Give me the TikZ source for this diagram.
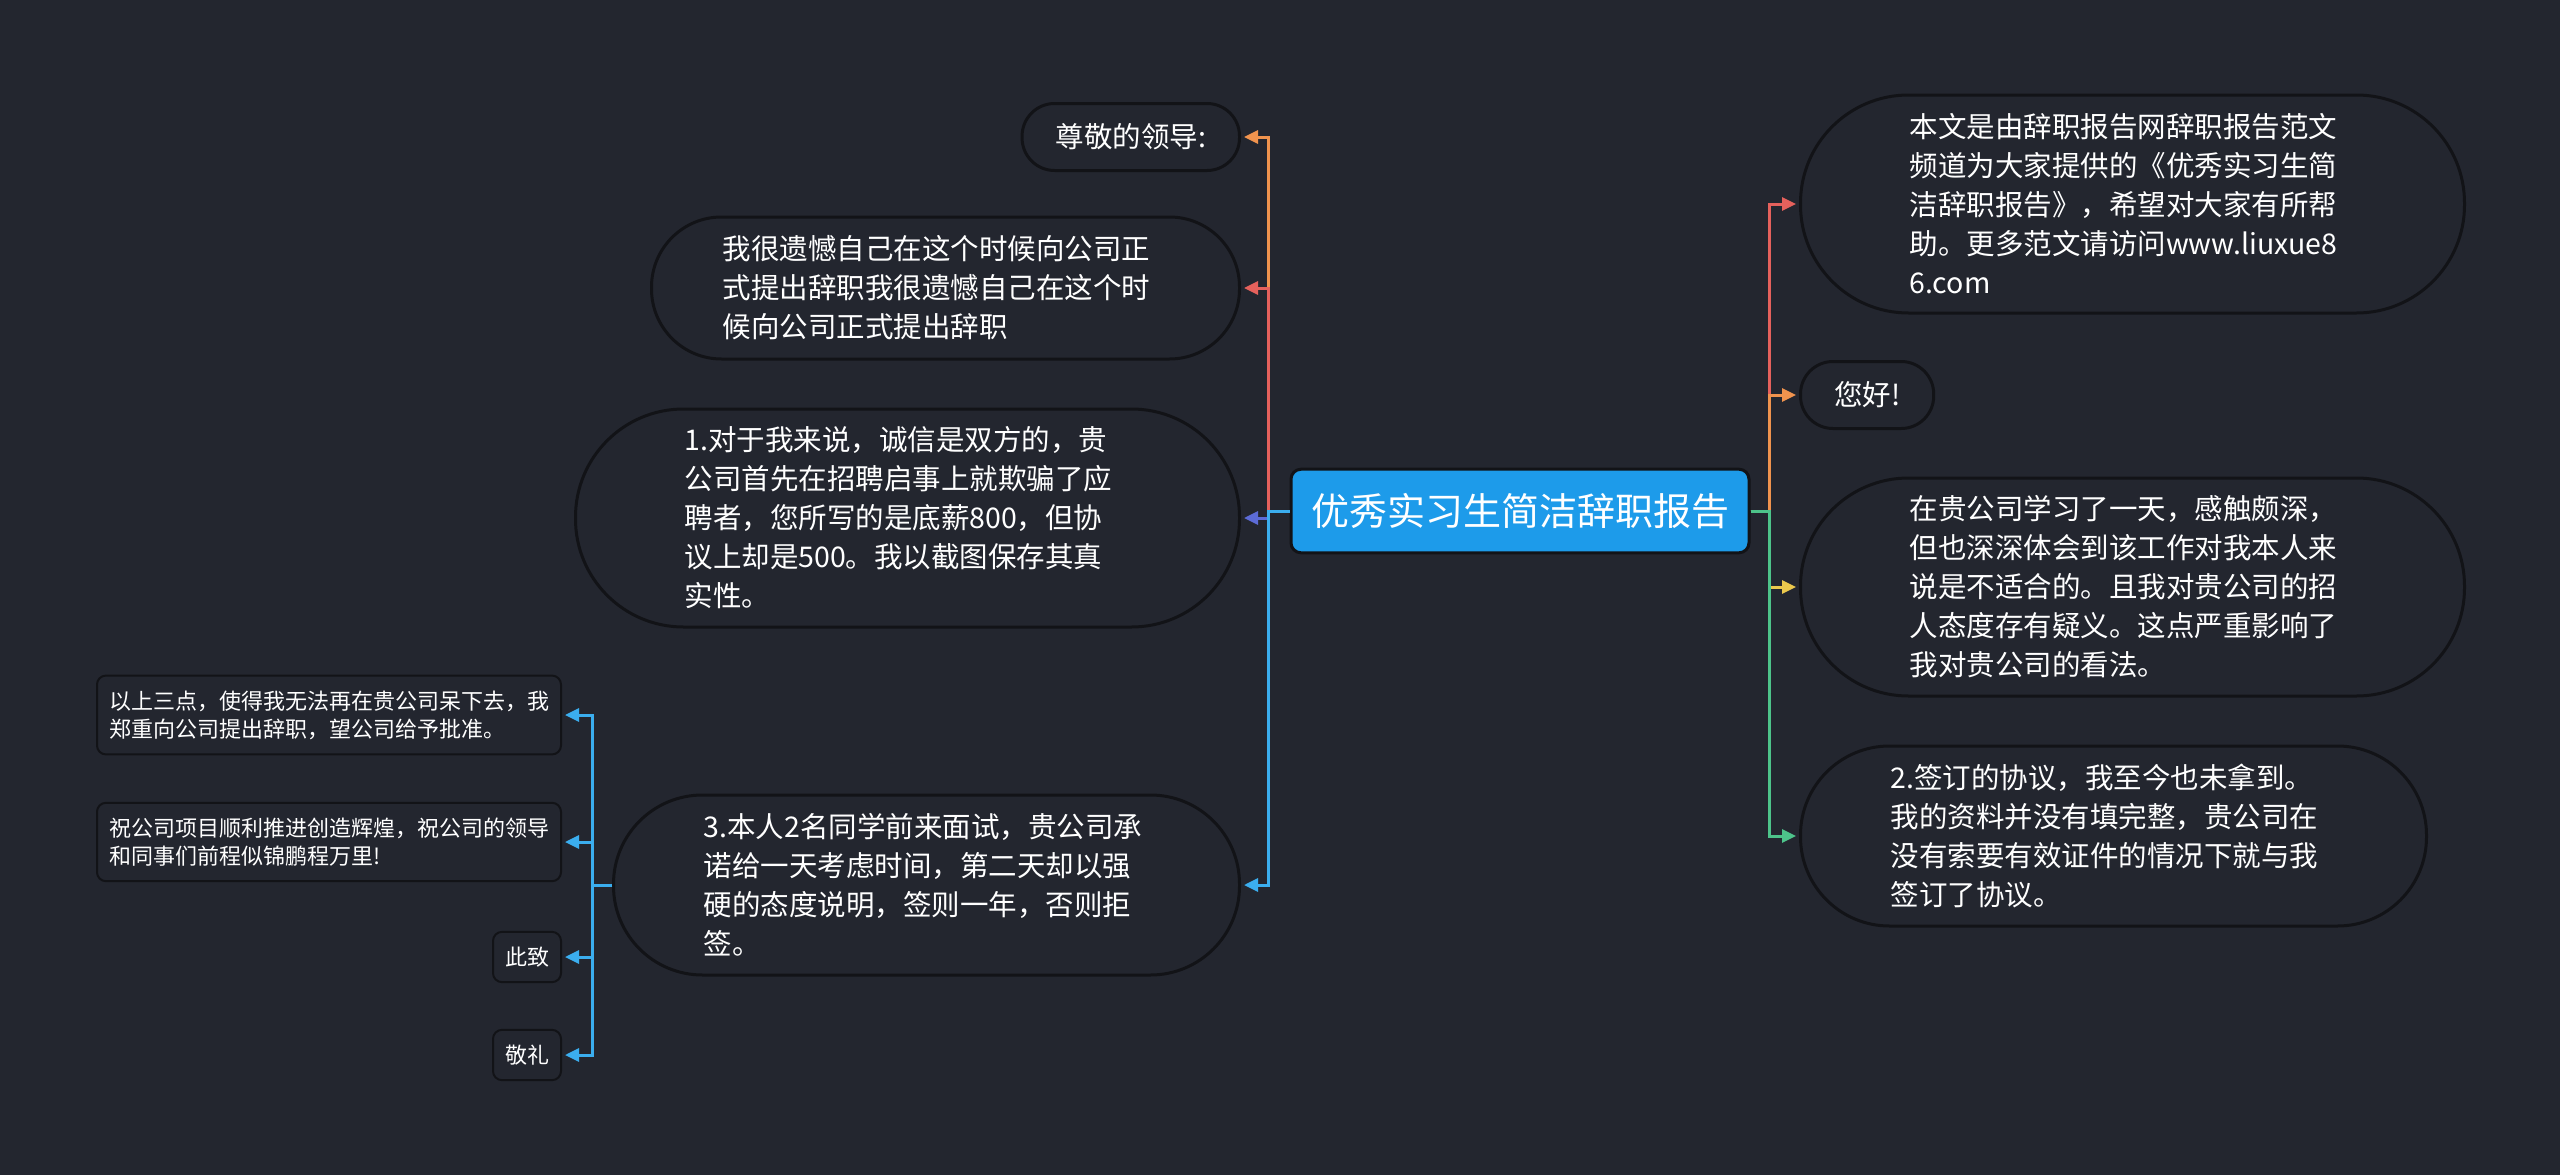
\documentclass[tikz,border=0pt]{standalone}
\usepackage{fontspec}
\setmainfont{Noto Sans CJK SC}
\usetikzlibrary{arrows.meta}

\begin{document}
\begin{tikzpicture}[
  x=1pt, y=-1pt,
  >={Triangle[length=14pt,width=13pt]},
  pill/.style={rectangle, draw=cEdge, line width=3pt, fill=cBg,
    text=white, align=left, rounded corners=#1,
    minimum height={2*#1+2}, inner xsep={#1+1}, inner ysep=4pt,
    font=\fontsize{28.5}{39}\selectfont},
  wide/.style={text width=446pt},
  leaf/.style={rectangle, rounded corners=9pt, draw=cEdge, line width=2pt,
    fill=cBg, text=white, align=left, inner xsep=12pt, inner ysep=15pt,
    font=\fontsize{22}{28}\selectfont},
  link/.style={line width=3pt, ->, shorten >=3pt},
]
\definecolor{cBg}{HTML}{23262F}
\definecolor{cEdge}{HTML}{121317}
\definecolor{cRoot}{HTML}{1D9BEA}
\definecolor{cRed}{HTML}{E5615C}
\definecolor{cOrange}{HTML}{F0934E}
\definecolor{cYellow}{HTML}{EBC84D}
\definecolor{cGreen}{HTML}{4DC38A}
\definecolor{cIndigo}{HTML}{5C6BD6}
\definecolor{cBlue}{HTML}{3BAEEF}

% ============================================================================
% canvas
% ============================================================================
\fill[cBg] (0,0) rectangle (2560,1175);
\useasboundingbox (0,0) rectangle (2560,1175);

% ============================================================================
% root
% ============================================================================
\node[draw=cEdge, line width=3pt, fill=cRoot, rounded corners=10pt,
      text=white, inner xsep=20pt, inner ysep=24pt,
      font=\fontsize{38}{44}\selectfont] (root) at (1520,511)
      {优秀实习生简洁辞职报告};

% ============================================================================
% right branch
% ============================================================================
\pgfmathsetmacro{\rX}{1799}
\node[pill=108pt, wide, anchor=west] (intro) at (\rX,204)
  {本文是由辞职报告网辞职报告范文\\频道为大家提供的《优秀实习生简\\洁辞职报告》，希望对大家有所帮\\助。更多范文请访问www.liuxue8\\6.com};
\node[pill=32.5pt, anchor=west] (hello) at (\rX,395) {您好!};
\node[pill=108pt, wide, anchor=west] (study) at (\rX,587)
  {在贵公司学习了一天，感触颇深，\\但也深深体会到该工作对我本人来\\说是不适合的。且我对贵公司的招\\人态度存有疑义。这点严重影响了\\我对贵公司的看法。};
\node[pill=89pt, wide, anchor=west] (sign) at (\rX,836)
  {2.签订的协议，我至今也未拿到。\\我的资料并没有填完整，贵公司在\\没有索要有效证件的情况下就与我\\签订了协议。};

\foreach \n/\col in {intro/cRed, hello/cOrange, study/cYellow, sign/cGreen}
  \draw[link, draw=\col] (root.east) -- ++(19,0) |- (\n.west);

% ============================================================================
% left branch
% ============================================================================
\pgfmathsetmacro{\lX}{1241}
\node[pill=32.5pt, anchor=east] (dear) at (\lX,137) {尊敬的领导:};
\node[pill=70pt, wide, anchor=east] (regret) at (\lX,288)
  {我很遗憾自己在这个时候向公司正\\式提出辞职我很遗憾自己在这个时\\候向公司正式提出辞职};
\node[pill=108pt, wide, anchor=east] (salary) at (\lX,518)
  {1.对于我来说，诚信是双方的，贵\\公司首先在招聘启事上就欺骗了应\\聘者，您所写的是底薪800，但协\\议上却是500。我以截图保存其真\\实性。};
\node[pill=89pt, wide, anchor=east] (trial) at (\lX,885)
  {3.本人2名同学前来面试，贵公司承\\诺给一天考虑时间，第二天却以强\\硬的态度说明，签则一年，否则拒\\签。};

\foreach \n/\col in {dear/cOrange, regret/cRed, salary/cIndigo, trial/cBlue}
  \draw[link, draw=\col] (root.west) -- ++(-21,0) |- (\n.east);

% ============================================================================
% leaves under "3."
% ============================================================================
\pgfmathsetmacro{\cX}{562}
\node[leaf, anchor=east] (reason) at (\cX,715)
  {以上三点，使得我无法再在贵公司呆下去，我\\郑重向公司提出辞职，望公司给予批准。};
\node[leaf, anchor=east] (wish) at (\cX,842)
  {祝公司项目顺利推进创造辉煌，祝公司的领导\\和同事们前程似锦鹏程万里!};
\node[leaf, anchor=east] (close) at (\cX,957) {此致};
\node[leaf, anchor=east] (salute) at (\cX,1055) {敬礼};

\foreach \n in {reason, wish, close, salute}
  \draw[link, draw=cBlue] (trial.west) -- ++(-20,0) |- (\n.east);

\end{tikzpicture}
\end{document}
